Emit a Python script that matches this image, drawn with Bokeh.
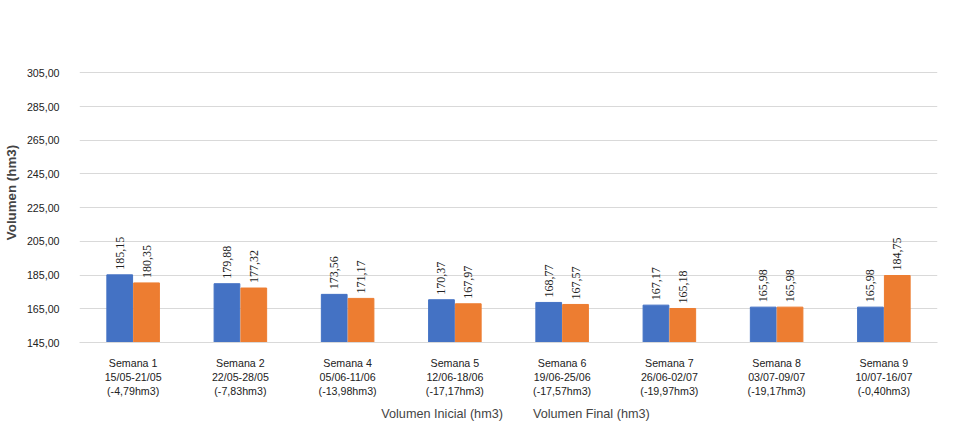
import numpy as np
from bokeh.plotting import figure
from bokeh.layouts import column
from bokeh.models import ColumnDataSource, FactorRange, LabelSet, Legend, LegendItem, FixedTicker, CustomJSTickFormatter
from bokeh.transform import dodge
from bokeh.embed import file_html
from bokeh.resources import INLINE

weeks = ["Semana 1\n15/05-21/05\n(-4,79hm3)", "Semana 2\n22/05-28/05\n(-7,83hm3)",
         "Semana 4\n05/06-11/06\n(-13,98hm3)", "Semana 5\n12/06-18/06\n(-17,17hm3)",
         "Semana 6\n19/06-25/06\n(-17,57hm3)", "Semana 7\n26/06-02/07\n(-19,97hm3)",
         "Semana 8\n03/07-09/07\n(-19,17hm3)", "Semana 9\n10/07-16/07\n(-0,40hm3)"]
vol_inicial = [185.15, 179.88, 173.56, 170.37, 168.77, 167.17, 165.98, 165.98]
vol_final = [180.35, 177.32, 171.17, 167.97, 167.57, 165.18, 165.98, 184.75]
y_ticks = [145, 165, 185, 205, 225, 245, 265, 285, 305]

fmt = lambda v: f"{v:.2f}".replace(".", ",")
src = ColumnDataSource(dict(x=weeks, a=vol_inicial, b=vol_final,
                            la=[fmt(v) for v in vol_inicial], lb=[fmt(v) for v in vol_final]))

p = figure(width=945, height=400, x_range=FactorRange(*weeks), y_range=(145, 323),
           output_backend="svg", toolbar_location=None,
           min_border_left=20, min_border_right=8, min_border_top=42, min_border_bottom=10)
p.outline_line_color = None

blue, orange = "#4472C4", "#ED7D31"
p.vbar(x=dodge("x", -0.125, range=p.x_range), top="a", bottom=145, width=0.24, color=blue, source=src)
p.vbar(x=dodge("x", 0.125, range=p.x_range), top="b", bottom=145, width=0.24, color=orange, source=src)

for col, lab, off in (("a", "la", -0.125), ("b", "lb", 0.125)):
    p.add_layout(LabelSet(x=dodge("x", off, range=p.x_range), y=col, text=lab, source=src,
                          angle=np.pi / 2, text_align="left", text_baseline="middle",
                          y_offset=5, text_font_size="9pt", text_color="#222222",
                          text_font="Liberation Sans"))

p.yaxis.ticker = FixedTicker(ticks=y_ticks)
p.yaxis.formatter = CustomJSTickFormatter(code="return tick.toFixed(2).replace('.', ',');")
p.yaxis.axis_label = "Volumen (hm3)"
p.yaxis.axis_label_text_font_style = "bold"
p.yaxis.axis_label_text_font_size = "10pt"
p.yaxis.axis_label_text_font = "Liberation Sans"
p.axis.major_label_text_font = "Liberation Sans"
p.axis.major_label_text_font_size = "8pt"
p.axis.major_label_text_color = "#222222"
p.yaxis.axis_line_color = None
p.yaxis.major_label_standoff = 14
p.axis.major_tick_line_color = None
p.axis.minor_tick_line_color = None
p.xaxis.axis_line_color = "#d9d9d9"
p.xaxis.major_label_standoff = 8
p.xgrid.grid_line_color = None
p.ygrid.grid_line_color = "#d9d9d9"
p.ygrid.ticker = FixedTicker(ticks=y_ticks)

# legend in its own strip under the chart
leg = figure(width=945, height=28, x_range=(0, 1), y_range=(0, 1),
             output_backend="svg", toolbar_location=None,
             min_border=0, outline_line_color=None)
leg.axis.visible = False
leg.grid.visible = False
g1 = leg.scatter(x=[], y=[], marker="square", color=blue, size=10)
g2 = leg.scatter(x=[], y=[], marker="square", color=orange, size=10)
leg.add_layout(Legend(items=[LegendItem(label="Volumen Inicial (hm3)", renderers=[g1]),
                             LegendItem(label="Volumen Final (hm3)", renderers=[g2])],
                      orientation="horizontal", location="center", border_line_color=None,
                      background_fill_alpha=0,
                      label_text_font="Liberation Sans", label_text_font_size="9.5pt",
                      glyph_width=10, glyph_height=10, spacing=15, padding=0, margin=0))

open("out.html", "w").write(file_html(column(p, leg), INLINE))
